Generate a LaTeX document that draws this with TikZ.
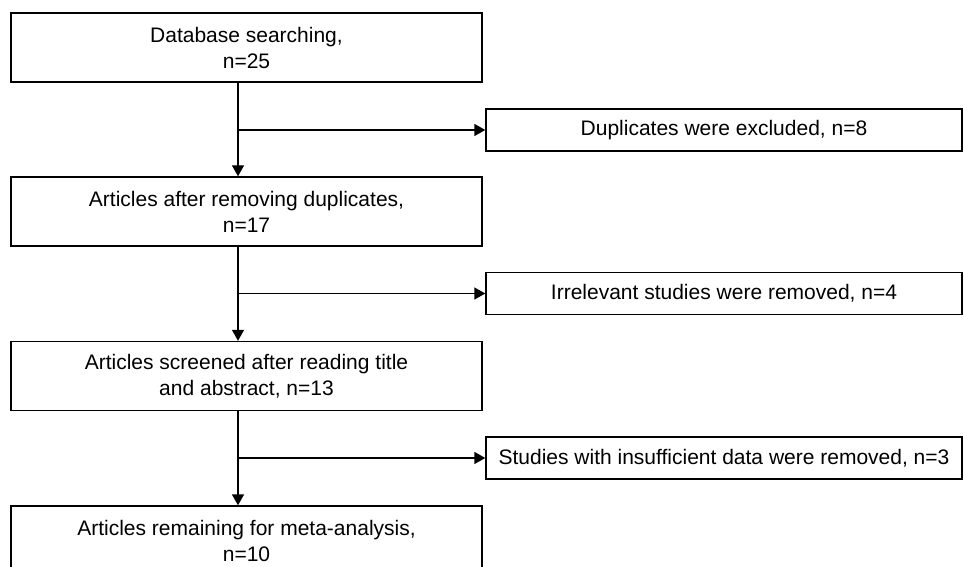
\documentclass[tikz,border=0pt]{standalone}
\usepackage{fontspec}
\setmainfont{Liberation Sans}
\usetikzlibrary{arrows.meta}

\begin{document}
\begin{tikzpicture}[x=1pt,y=-1pt]
	\tikzset{>={Triangle[length=11pt,width=12pt]}}
	\tikzset{box/.style={draw,line width=1.4pt,inner sep=0pt,align=center,font=\fontsize{21}{26}\selectfont}}
	\tikzset{stage/.style={box,minimum width=471pt,minimum height=69pt}}
	\tikzset{drop/.style={box,minimum width=476pt,minimum height=42pt}}
	\tikzset{flow/.style={line width=1.4pt,->}}
	\useasboundingbox (0,0) rectangle (964,567);
	% main column
	\node[stage] (search) at (246.5,47.5) {Database searching,\\n=25};
	\node[stage] (nodup) at (246.5,211.5) {Articles after removing duplicates,\\n=17};
	\node[stage] (screen) at (246.5,376) {Articles screened after reading title\\and abstract, n=13};
	\node[stage] (final) at (246.5,540.5) {Articles remaining for meta-analysis,\\n=10};
	% exclusions
	\node[drop] (dupl) at (724,130) {Duplicates were excluded, n=8};
	\node[drop] (irrel) at (724,293.5) {Irrelevant studies were removed, n=4};
	\node[drop] (insuf) at (724,458) {Studies with insufficient data were removed, n=3};
	\draw[flow] ([xshift=-8.5pt]search.south) -- ([xshift=-8.5pt]nodup.north);
	\draw[flow] ([xshift=-8.5pt]nodup.south) -- ([xshift=-8.5pt]screen.north);
	\draw[flow] ([xshift=-8.5pt]screen.south) -- ([xshift=-8.5pt]final.north);
	\draw[flow] ([xshift=-8.5pt]search.south |- dupl) -- (dupl);
	\draw[flow] ([xshift=-8.5pt]nodup.south |- irrel) -- (irrel);
	\draw[flow] ([xshift=-8.5pt]screen.south |- insuf) -- (insuf);
\end{tikzpicture}
\end{document}
